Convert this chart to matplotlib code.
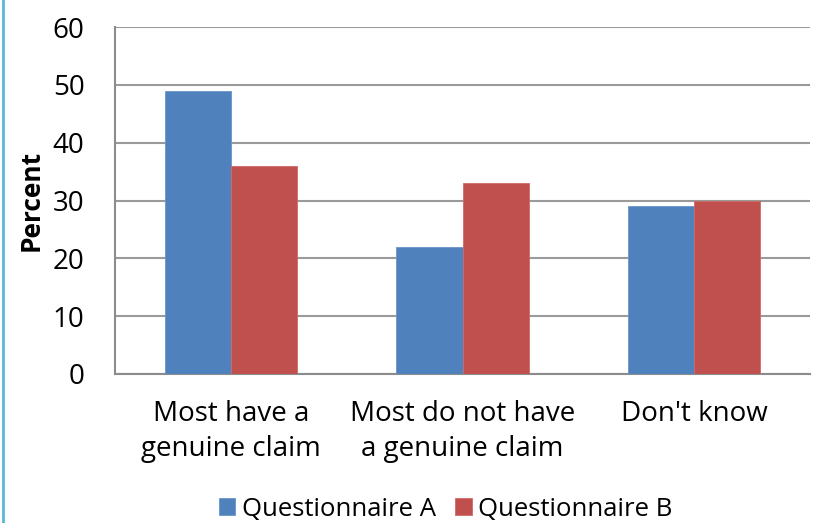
import matplotlib
matplotlib.use("Agg")
import matplotlib.pyplot as plt
import numpy as np
from matplotlib.lines import Line2D

categories = ["Most have a\ngenuine claim", "Most do not have\na genuine claim", "Don't know"]
series_names = ["Questionnaire A", "Questionnaire B"]
values_a = [49, 22, 29]
values_b = [36, 33, 30]
yticks = [0, 10, 20, 30, 40, 50, 60]

plt.rcParams['font.family'] = ['Open Sans', 'DejaVu Sans']
FS = 20

fig = plt.figure(figsize=(8.19, 5.23), dpi=100)
ax = fig.add_axes([115/819, 1-374/523, 695/819, 347/523])

x = np.arange(len(categories))
w = 1/3.5
ax.bar(x - w/2, values_a, w, color="#4f81bd", edgecolor="#6a95c9", linewidth=0.6, label=series_names[0], zorder=3)
ax.bar(x + w/2, values_b, w, color="#c0504d", edgecolor="#cf6a67", linewidth=0.6, label=series_names[1], zorder=3)

ax.set_xlim(-0.5, len(categories) - 0.5)
ax.set_ylim(0, 60)
ax.set_yticks(yticks)
ax.set_yticklabels([str(t) for t in yticks], fontsize=FS)
ax.set_xticks(x)
ax.set_xticklabels(categories, fontsize=FS, linespacing=1.3)
ax.tick_params(axis='x', length=0, pad=19)
ax.tick_params(axis='y', length=0, pad=22)
ax.yaxis.grid(True, color="#9a9a9a", linewidth=1.5, zorder=0)
ax.set_axisbelow(True)
for s in ["top", "right"]:
    ax.spines[s].set_visible(False)
for s in ["left", "bottom"]:
    ax.spines[s].set_color("#8c8c8c")
    ax.spines[s].set_linewidth(1.5)

ax.set_ylabel("Percent", fontsize=19, fontweight="bold", labelpad=6)

leg = fig.legend(loc="center", bbox_to_anchor=(0.544, 1-509/523), ncol=2, frameon=False,
                 fontsize=18.5, handlelength=0.65, handleheight=0.65, handletextpad=0.25,
                 columnspacing=0.75)

fig.add_artist(Line2D([2.5/819, 2.5/819], [0, 1], color="#5bb8d8", linewidth=2, transform=fig.transFigure))

fig.savefig("out.png", dpi=100)
